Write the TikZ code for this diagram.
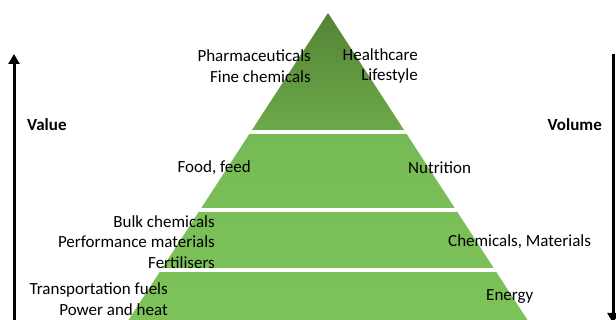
\documentclass[tikz,border=0pt]{standalone}
\usepackage{fontspec}
\setmainfont{Carlito}
\usepackage{tikz}
\usetikzlibrary{arrows.meta, calc}

\definecolor{topgreen}{RGB}{84,130,53}
\definecolor{midgreen}{RGB}{108,170,74}
\definecolor{lowgreen}{RGB}{118,186,84}
\definecolor{basegreen}{RGB}{126,196,90}

\begin{document}
\begin{tikzpicture}[
  x=1pt, y=-1pt,
  lbl/.style={inner sep=0pt, align=right, font=\fontsize{17}{20.5}\selectfont},
  rlbl/.style={inner sep=0pt, align=left, font=\fontsize{17}{20.5}\selectfont},
  axislbl/.style={inner sep=0pt, font=\fontsize{17}{20.5}\selectfont\bfseries},
  gap/.style={draw=white, line width=4pt},
  axis/.style={-{Triangle[length=10pt, width=11pt]}, line width=3pt},
]
\useasboundingbox (0,0) rectangle (616,320);

% Pyramid
\coordinate (apex) at (328,13);
\coordinate (baseL) at (122,330);
\coordinate (baseR) at (534,330);
\begin{scope}
  \clip (apex) -- (baseR) -- (baseL) -- cycle;
  \shade[top color=topgreen, bottom color=midgreen] (100,10) rectangle (560,132);
  \shade[top color=lowgreen, bottom color=basegreen] (100,132) rectangle (560,335);
  \draw[gap] (100,132) -- (560,132);
  \draw[gap] (100,210) -- (560,210);
  \draw[gap] (100,270) -- (560,270);
\end{scope}

% Labels
\node[lbl, anchor=east] (pharma) at (311,66) {Pharmaceuticals\\Fine chemicals};
\node[lbl, anchor=east] (health) at (418,66) {Healthcare\\Lifestyle};
\node[lbl, anchor=east] (food) at (251,168) {Food, feed};
\node[rlbl, anchor=west] (nutri) at (408,168) {Nutrition};
\node[lbl, anchor=east] (bulk) at (215,242) {Bulk chemicals\\Performance materials\\Fertilisers};
\node[rlbl, anchor=west] (chem) at (448,242) {Chemicals, Materials};
\node[lbl, anchor=east] (fuels) at (168,299) {Transportation fuels\\Power and heat};
\node[rlbl, anchor=west] (energy) at (486,297) {Energy};
\node[axislbl, anchor=west] (value) at (27,125) {Value};
\node[axislbl, anchor=east] (volume) at (602,125) {Volume};

% Arrows
\coordinate (valbot) at (14,322);
\coordinate (valtop) at (14,54);
\coordinate (voltop) at (613,54);
\coordinate (volbot) at (613,323);
\draw[axis] (valbot) -- (valtop);
\draw[axis] (voltop) -- (volbot);
\end{tikzpicture}
\end{document}
